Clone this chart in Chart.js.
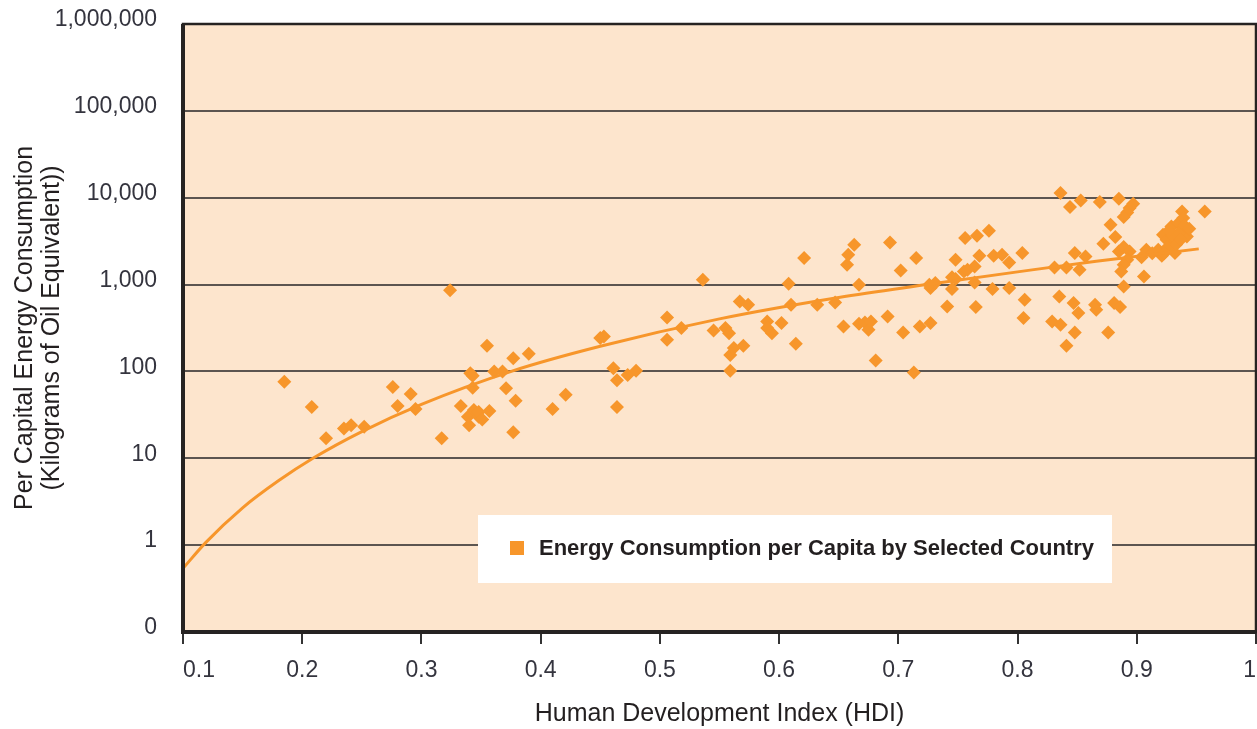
<!DOCTYPE html>
<html>
<head>
<meta charset="utf-8">
<title>Energy Consumption vs HDI</title>
<script src="https://cdn.jsdelivr.net/npm/chart.js@4.4.1/dist/chart.umd.min.js"></script>
<style>
    html, body { margin: 0; padding: 0; background: #ffffff; }
    #wrap { width: 1257px; height: 729px; }
</style>
</head>
<body>
<div id="wrap"><canvas id="hdiChart" width="1257" height="729"></canvas></div>
<script>
// pontos por pais (HDI, kg de oleo equivalente per capita)
const hdiValues = [
    0.185, 0.208, 0.220, 0.235, 0.241, 0.252, 0.276, 0.280, 0.291, 0.295,
    0.317, 0.324, 0.333, 0.339, 0.340, 0.341, 0.343, 0.343, 0.344, 0.348,
    0.348, 0.351, 0.355, 0.357, 0.361, 0.368, 0.371, 0.377, 0.377, 0.379,
    0.390, 0.410, 0.421, 0.450, 0.453, 0.461, 0.464, 0.464, 0.473, 0.480,
    0.506, 0.506, 0.518, 0.536, 0.545, 0.555, 0.558, 0.559, 0.562, 0.559,
    0.567, 0.574, 0.570, 0.590, 0.594, 0.590, 0.602, 0.608, 0.610, 0.614,
    0.621, 0.632, 0.647, 0.654, 0.657, 0.658, 0.663, 0.667, 0.667, 0.672,
    0.675, 0.677, 0.681, 0.691, 0.693, 0.702, 0.704, 0.715, 0.713, 0.718,
    0.727, 0.727, 0.731, 0.726, 0.741, 0.745, 0.745, 0.748, 0.756, 0.755,
    0.764, 0.764, 0.765, 0.766, 0.768, 0.776, 0.780, 0.779, 0.787, 0.793,
    0.793, 0.804, 0.806, 0.805, 0.836, 0.844, 0.853, 0.869, 0.885, 0.897,
    0.894, 0.892, 0.889, 0.878, 0.882, 0.872, 0.885, 0.889, 0.894, 0.892,
    0.889, 0.887, 0.904, 0.908, 0.906, 0.889, 0.918, 0.921, 0.922, 0.928,
    0.932, 0.929, 0.935, 0.938, 0.939, 0.942, 0.938, 0.934, 0.925, 0.957,
    0.831, 0.841, 0.852, 0.848, 0.857, 0.835, 0.847, 0.851, 0.865, 0.866,
    0.881, 0.886, 0.829, 0.836, 0.848, 0.841, 0.876, 0.748, 0.758, 0.926,
    0.930, 0.936, 0.940, 0.933, 0.927, 0.944, 0.937, 0.923, 0.913
]
const energyValues = [
    76, 39, 17, 22, 24, 23, 66, 40, 55, 37,
    17, 860, 40, 30, 24, 95, 89, 65, 36, 30,
    34, 28, 197, 35, 100, 100, 64, 142, 20, 46,
    160, 37, 54, 242, 252, 109, 79, 39, 91, 102,
    418, 231, 316, 1135, 296, 316, 276, 155, 186, 102,
    638, 585, 197, 376, 276, 316, 360, 1021, 585, 208,
    2018, 585, 622, 329, 1690, 2204, 2875, 995, 353, 366,
    301, 376, 134, 430, 3060, 1452, 281, 2018, 97, 329,
    360, 912, 1041, 995, 560, 1218, 887, 1931, 3433, 1416,
    1616, 1057, 550, 3648, 2147, 4168, 2147, 887, 2204, 1800,
    912, 2306, 668, 411, 11320, 7815, 9306, 8918, 9732, 8532,
    7601, 6774, 5996, 4887, 3524, 2951, 2406, 2704, 2406, 1931,
    1690, 1416, 2070, 2518, 1241, 953, 2518, 2147, 3750, 3139,
    2306, 4667, 5104, 6955, 5833, 3580, 4275, 3750, 3281, 6955,
    1574, 1574, 1482, 2306, 2108, 730, 612, 470, 585, 513,
    612, 550, 376, 344, 281, 197, 281, 1160, 1480, 2700,
    3600, 4000, 4800, 2900, 4200, 4400, 3300, 2300, 2300
]

// linha de tendencia
const trendHdi = [0.100, 0.119, 0.150, 0.180, 0.209, 0.250, 0.300, 0.376, 0.450, 0.550, 0.650, 0.724, 0.800, 0.866, 0.952]
const trendEnergy = [0.54, 1.07, 2.69, 5.5, 10, 20.3, 41.8, 101, 195, 403, 710, 1000, 1400, 1857, 2576]

// eixos
const xTicks = [0.1, 0.2, 0.3, 0.4, 0.5, 0.6, 0.7, 0.8, 0.9, 1]
const xTickLabels = ['0.1', '0.2', '0.3', '0.4', '0.5', '0.6', '0.7', '0.8', '0.9', '1']
const yTicks = [0.1, 1, 10, 100, 1000, 10000, 100000, 1000000]
const yTickLabels = ['0', '1', '10', '100', '1,000', '10,000', '100,000', '1,000,000']

const seriesLabel = 'Energy Consumption per Capita by Selected Country'
const orange = '#F7962B'
const fontFamily = "'Liberation Sans', Arial, Helvetica, sans-serif"
const plotRight = 1256

const points = hdiValues.map((x, i) => ({x: x, y: energyValues[i]}))
const trend = trendHdi.map((x, i) => ({x: x, y: trendEnergy[i]}))

// o eixo x vai ate a borda do canvas, como no original
const stretchRight = {
    id: 'stretchRight',
    afterLayout(chart) {
        const x = chart.scales.x
        chart.chartArea.right = plotRight
        chart.chartArea.width = plotRight - chart.chartArea.left
        x.right = plotRight
        x.width = x.right - x.left
        x.configure()
    }
}

// fundo e moldura da area do grafico
const plotArea = {
    id: 'plotArea',
    beforeDraw(chart) {
        const {ctx, chartArea: a} = chart
        ctx.save()
        ctx.fillStyle = '#FDE5CD'
        ctx.fillRect(a.left, a.top, a.right - a.left, a.bottom - a.top)
        ctx.restore()
    },
    afterDraw(chart) {
        const {ctx, chartArea: a} = chart
        ctx.save()
        ctx.strokeStyle = '#262322'
        ctx.lineWidth = 2.5
        ctx.strokeRect(a.left, a.top, a.right - a.left, a.bottom - a.top)
        ctx.lineWidth = 4
        ctx.beginPath()
        ctx.moveTo(a.left, a.top)
        ctx.lineTo(a.left, a.bottom)
        ctx.lineTo(a.right, a.bottom)
        ctx.stroke()
        ctx.restore()
    }
}

// legenda dentro do grafico
const legendBox = {
    id: 'legendBox',
    beforeDatasetsDraw(chart) {
        const {ctx} = chart
        ctx.save()
        ctx.fillStyle = '#ffffff'
        ctx.fillRect(478, 515, 634, 68)
        ctx.fillStyle = orange
        ctx.fillRect(510, 541, 14, 14)
        ctx.fillStyle = '#231f20'
        ctx.font = 'bold 22px ' + fontFamily
        ctx.textBaseline = 'middle'
        ctx.textAlign = 'left'
        ctx.fillText(seriesLabel, 539, 549)
        ctx.restore()
    }
}

new Chart(document.getElementById('hdiChart'), {
    type: 'scatter',
    data: {
        datasets: [
            {
                type: 'line',
                label: 'Trend',
                data: trend,
                borderColor: orange,
                borderWidth: 3,
                pointRadius: 0,
                fill: false,
                cubicInterpolationMode: 'monotone',
                order: 0
            },
            {
                label: seriesLabel,
                data: points,
                pointStyle: 'rectRot',
                pointRadius: 7,
                backgroundColor: orange,
                borderWidth: 0,
                order: 1
            }
        ]
    },
    options: {
        responsive: false,
        animation: false,
        layout: {
            padding: {top: 24, right: 1, left: 0, bottom: 0}
        },
        plugins: {
            legend: {display: false},
            tooltip: {enabled: false}
        },
        scales: {
            x: {
                type: 'linear',
                min: 0.1,
                max: 1,
                afterBuildTicks: (scale) => {
                    scale.ticks = xTicks.map(v => ({value: v}))
                },
                afterFit: (scale) => {
                    scale.height = 97
                },
                ticks: {
                    callback: (value, index) => xTickLabels[index],
                    color: '#34343e',
                    font: {family: fontFamily, size: 23},
                    padding: 13,
                    align: 'inner',
                    maxRotation: 0,
                    autoSkip: false
                },
                grid: {
                    drawOnChartArea: false,
                    drawTicks: true,
                    tickLength: 12,
                    color: '#333333',
                    lineWidth: 2
                },
                border: {display: false},
                title: {
                    display: true,
                    text: 'Human Development Index (HDI)',
                    color: '#231f20',
                    font: {family: fontFamily, size: 25},
                    padding: {top: 0, bottom: 0}
                }
            },
            y: {
                type: 'logarithmic',
                min: 0.1,
                max: 1000000,
                afterBuildTicks: (scale) => {
                    scale.ticks = yTicks.map(v => ({value: v}))
                },
                afterFit: (scale) => {
                    scale.width = 183
                    scale.paddingTop = 0
                    scale.paddingBottom = 0
                },
                ticks: {
                    callback: (value, index) => yTickLabels[index],
                    color: '#34343e',
                    font: {family: fontFamily, size: 23},
                    padding: 26,
                    labelOffset: -4,
                    autoSkip: false
                },
                grid: {
                    drawTicks: false,
                    color: '#5c5550',
                    lineWidth: 2
                },
                border: {display: false},
                title: {
                    display: true,
                    text: ['Per Capital Energy Consumption', '(Kilograms of Oil Equivalent))'],
                    color: '#231f20',
                    font: {family: fontFamily, size: 25, lineHeight: 1.1},
                    padding: {top: 11, bottom: 0}
                }
            }
        }
    },
    plugins: [stretchRight, plotArea, legendBox]
})
</script>
</body>
</html>
